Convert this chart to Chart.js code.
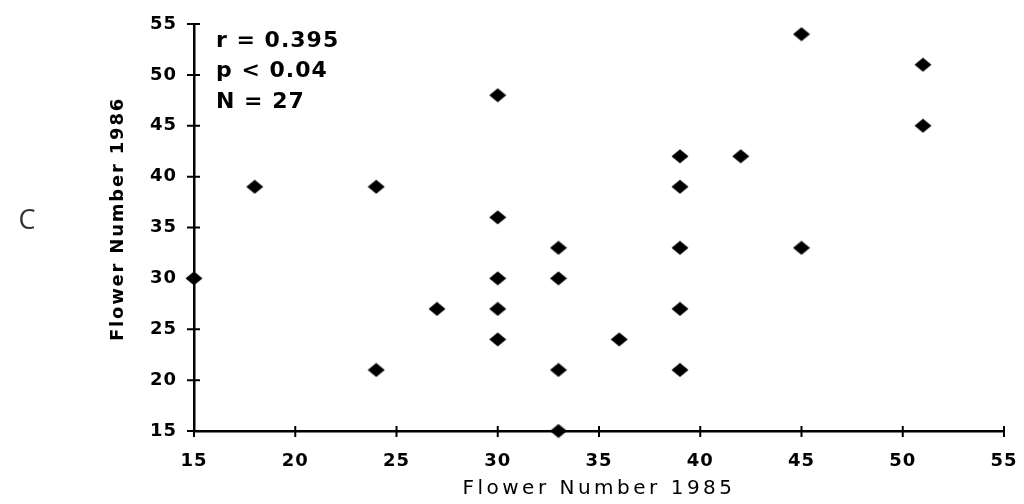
<!DOCTYPE html>
<html>
<head>
<meta charset="utf-8">
<script src="https://cdn.jsdelivr.net/npm/chart.js@4.4.1/dist/chart.umd.min.js"></script>
<style>
    html, body { margin: 0; padding: 0; background: #fff; }
    #wrap { width: 1024px; height: 504px; position: relative; }
</style>
</head>
<body>
<div id="wrap"><canvas id="flowerChart"></canvas></div>
<script>
// Flower numbers per plant, 1985 vs 1986
const flowers1985 = [15, 18, 24, 24, 27, 30, 30, 30, 30, 30, 33, 33, 33, 33, 36, 39, 39, 39, 39, 39, 42, 45, 45, 51, 51];
const flowers1986 = [30, 39, 39, 21, 27, 48, 36, 30, 27, 24, 33, 30, 21, 15, 24, 42, 39, 33, 27, 21, 42, 54, 33, 51, 45];
const xTicks = [15, 20, 25, 30, 35, 40, 45, 50, 55];
const yTicks = [15, 20, 25, 30, 35, 40, 45, 50, 55];
const xTitle = 'Flower Number 1985';
const yTitle = 'Flower Number 1986';
const statsLines = ['r = 0.395', 'p < 0.04', 'N = 27'];
const panelLabel = 'C';

document.addEventListener('DOMContentLoaded', () => {
    // flattened diamond marker like the original print
    const marker = document.createElement('canvas');
    marker.width = 18;
    marker.height = 15;
    const m = marker.getContext('2d');
    m.fillStyle = '#000';
    m.beginPath();
    m.moveTo(9, 0.5);
    m.lineTo(17.5, 7.5);
    m.lineTo(9, 14.5);
    m.lineTo(0.5, 7.5);
    m.closePath();
    m.fill();

    const points = flowers1985.map((x, i) => ({ x: x, y: flowers1986[i] }));

    // cross ticks through the axes, plus titles and the stats text
    const paperPlugin = {
        id: 'paper',
        beforeDraw(chart) {
            chart.ctx.letterSpacing = '1px';
        },
        afterDatasetsDraw(chart) {
            const ctx = chart.ctx;
            const xs = chart.scales.x;
            const ys = chart.scales.y;
            const area = chart.chartArea;
            ctx.save();
            ctx.strokeStyle = '#000';
            ctx.lineWidth = 2;
            ctx.beginPath();
            xTicks.forEach(v => {
                const px = xs.getPixelForValue(v);
                ctx.moveTo(px, area.bottom - 5);
                ctx.lineTo(px, area.bottom + 6);
            });
            yTicks.forEach(v => {
                const py = ys.getPixelForValue(v);
                ctx.moveTo(area.left - 7, py);
                ctx.lineTo(area.left + 6, py);
            });
            ctx.stroke();

            ctx.fillStyle = '#000';
            ctx.textBaseline = 'middle';

            // stats block
            ctx.font = 'bold 22px "DejaVu Sans"';
            ctx.letterSpacing = '1px';
            ctx.textAlign = 'left';
            statsLines.forEach((line, i) => {
                ctx.fillText(line, area.left + 22, 41 + i * 30.5);
            });

            // x title
            ctx.font = '20px "DejaVu Sans"';
            ctx.letterSpacing = '3.5px';
            ctx.textAlign = 'center';
            ctx.fillText(xTitle, 599, 489);

            // y title
            ctx.save();
            ctx.translate(118, 219);
            ctx.rotate(-Math.PI / 2);
            ctx.font = 'bold 18px "DejaVu Sans"';
            ctx.letterSpacing = '1.8px';
            ctx.fillText(yTitle, 0, 0);
            ctx.restore();

            // panel letter
            ctx.font = '27px "Open Sans"';
            ctx.letterSpacing = '0px';
            ctx.fillStyle = '#333';
            ctx.fillText(panelLabel, 27, 221);
            ctx.restore();
        }
    };

    const tickFont = { family: 'DejaVu Sans', size: 18, weight: 'bold' };

    new Chart(document.getElementById('flowerChart').getContext('2d'), {
        type: 'scatter',
        data: {
            datasets: [{
                data: points,
                pointStyle: marker,
                pointRadius: 8,
                clip: false,
            }]
        },
        options: {
            responsive: true,
            maintainAspectRatio: false,
            animation: false,
            layout: {
                padding: { top: 24, right: 20, bottom: 0, left: 0 }
            },
            plugins: {
                legend: { display: false },
                tooltip: { enabled: false }
            },
            scales: {
                x: {
                    type: 'linear',
                    min: 15,
                    max: 55,
                    afterFit: (scale) => {
                        scale.height = 73;
                        scale.paddingLeft = 0;
                        scale.paddingRight = 0;
                    },
                    afterBuildTicks: (scale) => { scale.ticks = xTicks.map(v => ({ value: v })); },
                    grid: { display: false, drawTicks: false, tickLength: 0 },
                    border: { display: true, color: '#000', width: 2.5 },
                    ticks: { color: '#000', font: tickFont, padding: 20, maxRotation: 0 }
                },
                y: {
                    type: 'linear',
                    min: 15,
                    max: 55,
                    afterFit: (scale) => {
                        scale.width = 194;
                        scale.paddingTop = 0;
                        scale.paddingBottom = 0;
                    },
                    afterBuildTicks: (scale) => { scale.ticks = yTicks.map(v => ({ value: v })); },
                    grid: { display: false, drawTicks: false, tickLength: 0 },
                    border: { display: true, color: '#000', width: 2.5 },
                    ticks: { color: '#000', font: tickFont, padding: 17 }
                }
            }
        },
        plugins: [paperPlugin]
    });
});
</script>
</body>
</html>
